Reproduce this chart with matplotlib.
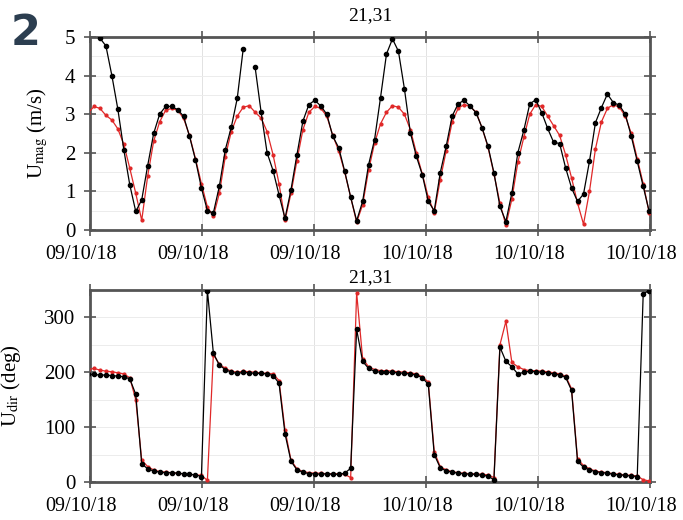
import numpy as np
import matplotlib
matplotlib.use('Agg')
from matplotlib import pyplot as plt
from matplotlib.ticker import MultipleLocator
from matplotlib.transforms import ScaledTranslation

plt.rcParams['font.family'] = ['Liberation Serif', 'DejaVu Serif']
plt.rcParams['mathtext.fontset'] = 'stix'

DT = 0.5  # hours between samples
stationName = '21,31'
tickLabels = ['09/10/18', '09/10/18', '09/10/18', '10/10/18', '10/10/18', '10/10/18']

# current speed (m/s), observed (black) and model (red)
magObs = [5.8, 5.25, 4.97, 4.77, 4.0, 3.13, 2.08, 1.17, 0.48, 0.78,
          1.67, 2.5, 3.0, 3.2, 3.2, 3.12, 2.95, 2.43, 1.82, 1.09,
          0.5, 0.44, 1.13, 2.08, 2.66, 3.41, 4.69, np.nan, 4.21, 3.05,
          2.0, 1.54, 0.91, 0.3, 1.04, 1.95, 2.82, 3.25, 3.36, 3.21,
          3.0, 2.43, 2.13, 1.52, 0.85, 0.24, 0.74, 1.69, 2.34, 3.43,
          4.56, 4.95, 4.63, 3.66, 2.52, 1.91, 1.43, 0.74, 0.5, 1.48,
          2.17, 2.95, 3.27, 3.36, 3.21, 3.04, 2.65, 2.17, 1.48, 0.61,
          0.22, 0.96, 2.0, 2.58, 3.27, 3.37, 3.04, 2.63, 2.27, 2.24,
          1.61, 1.09, 0.74, 0.93, 1.78, 2.78, 3.17, 3.52, 3.3, 3.23,
          3.0, 2.43, 1.78, 1.13, 0.48]
magModel = [3.02, 3.2, 3.15, 2.97, 2.85, 2.62, 2.22, 1.6, 0.95, 0.25,
            1.4, 2.3, 2.8, 3.1, 3.15, 3.1, 2.9, 2.45, 1.85, 1.2,
            0.6, 0.35, 0.95, 1.9, 2.55, 2.95, 3.18, 3.22, 3.05, 2.9,
            2.55, 1.95, 1.2, 0.25, 0.95, 1.8, 2.6, 3.05, 3.2, 3.15,
            2.95, 2.45, 2.05, 1.5, 0.85, 0.2, 0.65, 1.55, 2.25, 2.75,
            3.05, 3.22, 3.18, 3.0, 2.6, 2.0, 1.45, 0.85, 0.45, 1.3,
            2.05, 2.8, 3.15, 3.25, 3.2, 3.05, 2.65, 2.15, 1.45, 0.7,
            0.12, 0.8, 1.75, 2.4, 3.0, 3.25, 3.2, 2.95, 2.7, 2.45,
            1.95, 1.35, 0.7, 0.15, 1.0, 2.1, 2.8, 3.15, 3.25, 3.18,
            2.95, 2.5, 1.85, 1.2, 0.45]

# current direction (deg)
dirObs = [196, 196, 195, 195, 194, 193, 192, 188, 160, 33,
          24, 20, 18, 17, 17, 16, 15, 14, 13, 10,
          349, 235, 213, 205, 200, 198, 200, 199, 198, 198,
          197, 194, 180, 88, 38, 22, 18, 15, 15, 14,
          15, 14, 14, 16, 25, 278, 220, 207, 202, 200,
          200, 200, 199, 198, 197, 195, 190, 178, 50, 26,
          20, 18, 16, 15, 14, 14, 12, 11, 4, 246,
          220, 210, 197, 200, 202, 201, 200, 199, 197, 195,
          191, 167, 38, 27, 22, 19, 17, 16, 14, 13,
          12, 11, 10, 343, 349]
dirModel = [205, 207, 204, 202, 201, 199, 197, 190, 150, 40,
            28, 22, 19, 18, 17, 16, 15, 14, 13, 12,
            3, 232, 215, 207, 202, 200, 202, 201, 200, 199,
            198, 197, 185, 95, 40, 24, 19, 17, 16, 16,
            15, 15, 15, 14, 8, 345, 225, 210, 205, 203,
            203, 202, 201, 200, 199, 197, 192, 182, 55, 28,
            22, 19, 17, 16, 15, 15, 14, 13, 8, 250,
            293, 218, 210, 205, 203, 203, 202, 201, 199, 197,
            193, 170, 42, 30, 24, 20, 18, 17, 15, 14,
            13, 12, 11, 4, 2]

time = np.arange(len(magObs)) * DT
xlim = (0.17, 47.07)
xticks = np.linspace(xlim[0], xlim[1], len(tickLabels))

fig = plt.figure(figsize=(6.83, 5.2), dpi=100)
axMag = fig.add_axes([0.1318, 0.5577, 0.8199, 0.3712])
axDir = fig.add_axes([0.1318, 0.0731, 0.8199, 0.3692])

# date labels sit a bit left of their ticks in the original
labelShift = ScaledTranslation(-0.09, 0, fig.dpi_scale_trans)


def styleAxis(ax, ylim, major, minor):
    ax.set_xlim(*xlim)
    ax.set_ylim(*ylim)
    ax.set_xticks(xticks)
    ax.set_xticklabels(tickLabels)
    ax.yaxis.set_major_locator(MultipleLocator(major))
    ax.yaxis.set_minor_locator(MultipleLocator(minor))
    ax.grid(True, axis='x', color='#e2e2e2', lw=0.7)
    ax.grid(True, axis='y', which='both', color='#ececec', lw=0.7)
    ax.set_axisbelow(True)
    for s in ax.spines.values():
        s.set_linewidth(2.0)
        s.set_color('#555555')
    ax.tick_params(which='major', direction='inout', length=9, width=1.2,
                   top=True, right=True, color='#555555', labelsize=15, pad=6)
    ax.tick_params(axis='x', labelsize=14.5)
    ax.tick_params(which='minor', length=0)
    for lab in ax.get_xticklabels():
        lab.set_transform(lab.get_transform() + labelShift)


axMag.plot(time, magModel, color='#e02828', lw=0.9, marker='o', ms=2.0, zorder=3)
axMag.plot(time, magObs, color='black', lw=0.9, marker='o', ms=3.0, zorder=4)
styleAxis(axMag, (0, 5), 1, 0.5)
axMag.set_ylabel(r'U$_{\mathrm{mag}}$ (m/s)', fontsize=15, labelpad=11)
axMag.set_title(stationName, fontsize=14, pad=12)

axDir.plot(time, dirModel, color='#e02828', lw=0.9, marker='o', ms=2.0, zorder=3)
axDir.plot(time, dirObs, color='black', lw=0.9, marker='o', ms=3.0, zorder=4)
styleAxis(axDir, (0, 350), 100, 50)
axDir.set_ylabel(r'U$_{\mathrm{dir}}$ (deg)', fontsize=15, labelpad=15)
axDir.set_title(stationName, fontsize=14, pad=6)

fig.text(0.038, 0.937, '2', fontsize=31, fontweight='bold', color='#2c3e50',
         family='DejaVu Sans', ha='center', va='center')

fig.savefig('out.png', dpi=100)
